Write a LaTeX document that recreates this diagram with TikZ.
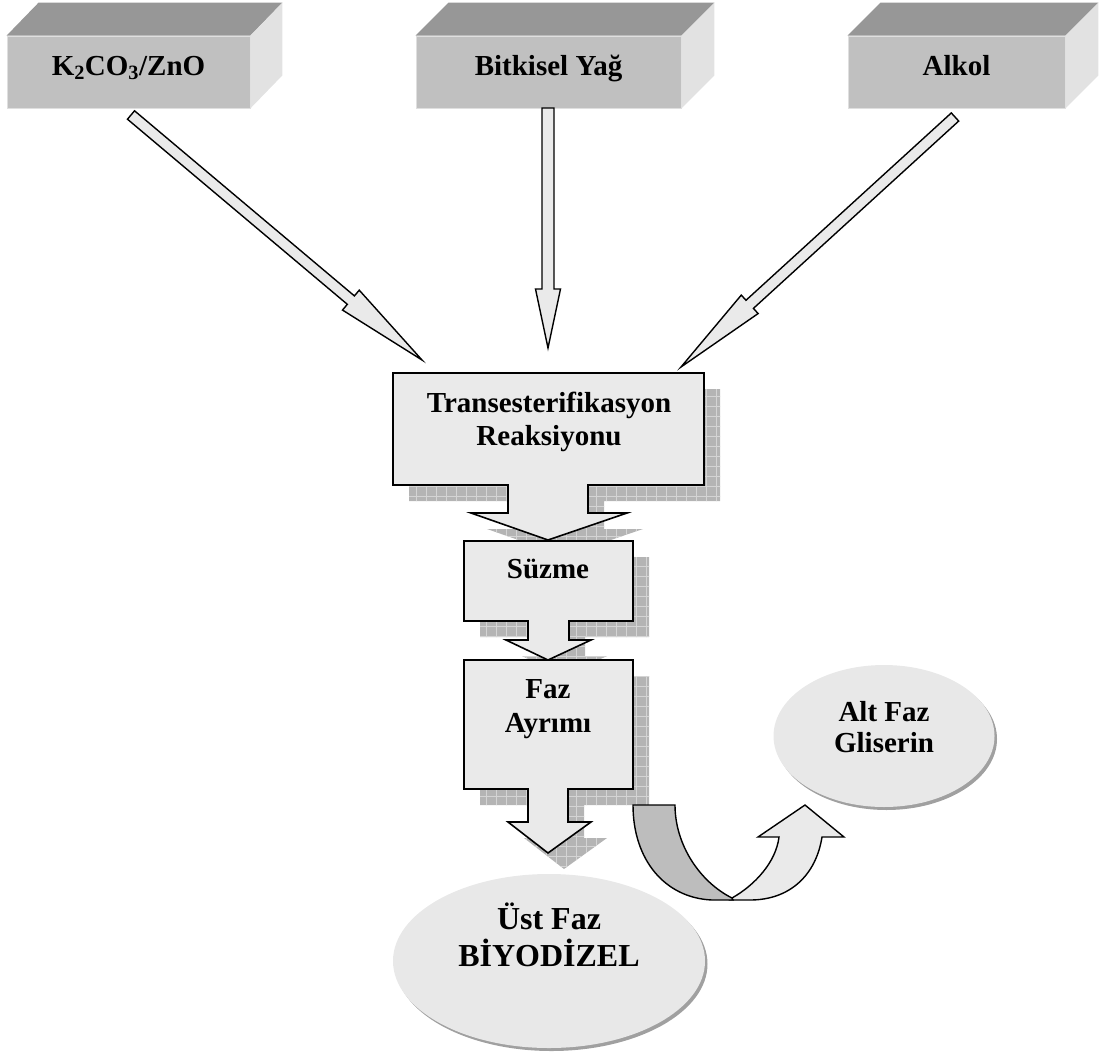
\documentclass[tikz,border=0pt]{standalone}
\usepackage{fontspec}
\setmainfont{Liberation Serif}
\usetikzlibrary{calc,shapes.geometric,shadows}
\definecolor{frontgray}{HTML}{C0C0C0}
\definecolor{topgray}{HTML}{979797}
\definecolor{sidegray}{HTML}{E2E2E2}
\definecolor{lightfill}{HTML}{EAEAEA}
\definecolor{shadowgray}{HTML}{B4B4B4}
\definecolor{gridgray}{HTML}{D4D4D4}
\definecolor{darkband}{HTML}{BDBDBD}
\definecolor{ellfill}{HTML}{E8E8E8}
\definecolor{ellshadow}{HTML}{A0A0A0}
\newcommand\gridshadow[1]{%
  \begin{scope}[shift={(16,16)}]
    \clip[#1];
    \fill[shadowgray] (350,350) rectangle (760,900);
    \draw[gridgray, line width=0.6pt, step=10pt] (350,350) grid (760,900);
  \end{scope}}
\newcommand\blockarrow[5]{%
  \coordinate (hb) at ($(#2)!#5!(#1)$);
  \filldraw[barrow] ($(#1)!#3!90:(#2)$) -- ($(hb)!#3!90:(#2)$) -- ($(hb)!#4!90:(#2)$) -- (#2)
    -- ($(hb)!#4!-90:(#2)$) -- ($(hb)!#3!-90:(#2)$) -- ($(#1)!#3!-90:(#2)$) -- cycle;}
\begin{document}
\begin{tikzpicture}[x=1pt,y=-1pt,
  lbl/.style={font=\fontsize{29}{33}\selectfont\bfseries, align=center, inner sep=0pt},
  face/.style={fill=frontgray, draw=gray!25, line width=0.8pt, inner sep=0pt,
    text height=20pt, text depth=14pt, font=\fontsize{29}{33}\selectfont\bfseries},
  topface/.style={fill=topgray},
  sideface/.style={fill=sidegray},
  barrow/.style={fill=lightfill, draw=black, line width=1.4pt, line join=miter},
  callout/.style={fill=lightfill, draw=black, line width=1.6pt},
  uband/.style={draw=black, line width=1.4pt},
  ellip/.style={ellipse, fill=ellfill, inner sep=0pt,
    general shadow={fill=ellshadow, shadow xshift=2.5pt, shadow yshift=-3pt}},
  trpath/.style={insert path={(393,373) -- (704,373) -- (704,485) -- (588,485) -- (588,513) -- (627,513) -- (548,540) -- (471,513) -- (508,513) -- (508,485) -- (393,485) -- cycle}},
  suzpath/.style={insert path={(464,541) -- (633,541) -- (633,621) -- (569,621) -- (569,640) -- (591,640) -- (548,660) -- (506,640) -- (528,640) -- (528,621) -- (464,621) -- cycle}},
  fazpath/.style={insert path={(464,660) -- (633,660) -- (633,789) -- (568,789) -- (568,822) -- (591,822) -- (548,853) -- (508,822) -- (528,822) -- (528,789) -- (464,789) -- cycle}},
]
\useasboundingbox (0,0) rectangle (1105,1052);

% --- top 3D boxes ---
\node[face, minimum width=243pt, minimum height=72pt] (k2co3) at (128.5,72) {K\textsubscript{2}CO\textsubscript{3}/ZnO};
\fill[topface] (k2co3.north west) -- ($(k2co3.north west)+(32,-33)$) -- ($(k2co3.north east)+(32,-33)$) -- (k2co3.north east) -- cycle;
\fill[sideface] (k2co3.north east) -- ($(k2co3.north east)+(32,-33)$) -- ($(k2co3.south east)+(32,-33)$) -- (k2co3.south east) -- cycle;

\node[face, minimum width=265pt, minimum height=72pt] (yag) at (548.5,72) {Bitkisel Yağ};
\fill[topface] (yag.north west) -- ($(yag.north west)+(33,-33)$) -- ($(yag.north east)+(33,-33)$) -- (yag.north east) -- cycle;
\fill[sideface] (yag.north east) -- ($(yag.north east)+(33,-33)$) -- ($(yag.south east)+(33,-33)$) -- (yag.south east) -- cycle;

\node[face, minimum width=217pt, minimum height=72pt] (alkol) at (956.5,72) {Alkol};
\fill[topface] (alkol.north west) -- ($(alkol.north west)+(33,-33)$) -- ($(alkol.north east)+(33,-33)$) -- (alkol.north east) -- cycle;
\fill[sideface] (alkol.north east) -- ($(alkol.north east)+(33,-33)$) -- ($(alkol.south east)+(33,-33)$) -- (alkol.south east) -- cycle;

% --- block arrows ---
\coordinate (a1s) at (131,115);  \coordinate (a1t) at (422,360);
\coordinate (a2s) at (548,108);  \coordinate (a2t) at (548,348);
\coordinate (a3s) at (955,117);  \coordinate (a3t) at (681,367);
\blockarrow{a1s}{a1t}{5.5pt}{13pt}{93pt}
\blockarrow{a2s}{a2t}{6pt}{12.5pt}{59pt}
\blockarrow{a3s}{a3t}{5.5pt}{12.5pt}{93pt}

% --- callouts ---
\gridshadow{trpath}
\filldraw[callout, trpath];
\node[lbl] (trans) at (549,422) {Transesterifikasyon\\Reaksiyonu};

\gridshadow{suzpath}
\filldraw[callout, suzpath];
\node[lbl] (suzme) at (548,569) {Süzme};

\gridshadow{fazpath}
\filldraw[callout, fazpath];
\node[lbl, font=\fontsize{29}{34}\selectfont\bfseries] (faz) at (548,709) {Faz\\Ayrımı};

% --- U-turn arrow ---
\filldraw[uband, fill=lightfill] (732,898) .. controls (755,885) and (776,862) .. (779,837) -- (758,837) -- (805,805) -- (844,837) -- (822,837) .. controls (816,875) and (790,900) .. (750,900) -- (730,900) -- cycle;
\filldraw[uband, fill=darkband] (633,805) -- (675,805) .. controls (675,845) and (700,882) .. (732,898) -- (733,900) -- (712,900) .. controls (665,898) and (633,860) .. (633,805) -- cycle;

% --- ellipses ---
\node[ellip, minimum width=312pt, minimum height=174pt] (ust) at (549,961) {};
\node[lbl, font=\fontsize{32}{37}\selectfont\bfseries] (usttxt) at (549,935) {Üst Faz\\BİYODİZEL};

\node[ellip, minimum width=221pt, minimum height=142pt] (alt) at (884,736) {};
\node[lbl, font=\fontsize{29}{31}\selectfont\bfseries] (alttxt) at (884,727) {Alt Faz\\Gliserin};
\end{tikzpicture}
\end{document}
